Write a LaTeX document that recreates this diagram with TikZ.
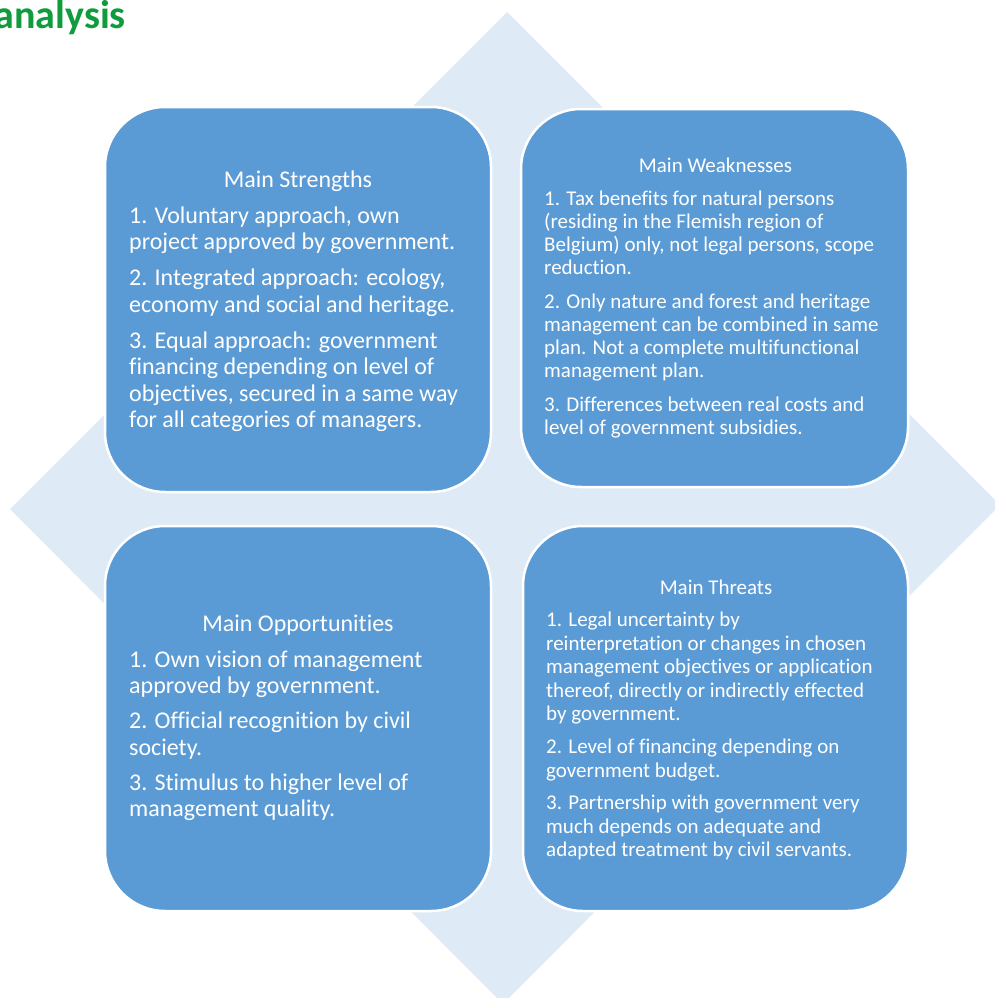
\documentclass[tikz,border=0pt]{standalone}
\usepackage{fontspec}
\setmainfont{Carlito}[Ligatures={NoCommon}]
\definecolor{boxblue}{HTML}{5B9BD5}
\definecolor{diamondblue}{HTML}{DEEBF7}
\definecolor{titlegreen}{RGB}{16,155,60}
\newcommand{\bodyfont}[3]{\fontsize{#1}{#2}\selectfont\setlength{\parskip}{#3}\raggedright}
\begin{document}
\begin{tikzpicture}[x=1pt,y=-1pt,
  quad/.style={draw=white, line width=2.5pt, fill=boxblue, rounded corners=60pt, inner sep=0pt, outer sep=0pt},
  hd/.style={text=white, inner sep=0pt, anchor=base},
  bodytext/.style={text=white, inner sep=0pt, anchor=base west}]
\useasboundingbox (0,0) rectangle (995,998);
\clip (0,0) rectangle (995,998);
\fill[diamondblue] (507,12) -- (1000,505) -- (503,1004) -- (10,509) -- cycle;

\node[anchor=base east, inner sep=0pt, text=titlegreen, font=\fontsize{40}{40}\selectfont\bfseries] (ttl) at (126,29) {analysis};

\node[quad, minimum width=386pt, minimum height=385pt] (sbox) at (298,299.5) {};
\node[quad, minimum width=387pt, minimum height=378pt] (wbox) at (714.5,298) {};
\node[quad, minimum width=386pt, minimum height=385pt] (obox) at (298,718.5) {};
\node[quad, minimum width=385pt, minimum height=385pt] (tbox) at (715.5,718.5) {};

\node[hd, font=\fontsize{24}{26}\selectfont] (stitle) at (298,187) {Main Strengths};
\node[bodytext] (sbody) at (129,223) {\parbox[t]{360pt}{\bodyfont{24}{26.5}{9.5pt}%
1. Voluntary approach, own\\ project approved by government.\par
2. Integrated approach: ecology,\\ economy and social and heritage.\par
3. Equal approach: government\\ financing depending on level of\\ objectives, secured in a same way\\ for all categories of managers.}};

\node[hd, font=\fontsize{21}{23}\selectfont] (wtitle) at (715.5,172) {Main Weaknesses};
\node[bodytext] (wbody) at (544,205) {\parbox[t]{360pt}{\bodyfont{21}{23.3}{9.8pt}%
1. Tax benefits for natural persons\\ (residing in the Flemish region of\\ Belgium) only, not legal persons, scope\\ reduction.\par
2. Only nature and forest and heritage\\ management can be combined in same\\ plan. Not a complete multifunctional\\ management plan.\par
3. Differences between real costs and\\ level of government subsidies.}};

\node[hd, font=\fontsize{24}{26}\selectfont] (otitle) at (298,631) {Main Opportunities};
\node[bodytext] (obody) at (129,667.3) {\parbox[t]{360pt}{\bodyfont{24}{26.3}{9pt}%
1. Own vision of management\\ approved by government.\par
2. Official recognition by civil\\ society.\par
3. Stimulus to higher level of\\ management quality.}};

\node[hd, font=\fontsize{21}{23}\selectfont] (ttitle) at (716,594) {Main Threats};
\node[bodytext] (tbody) at (546,626.7) {\parbox[t]{360pt}{\bodyfont{21}{23.5}{9.3pt}%
1. Legal uncertainty by\\ reinterpretation or changes in chosen\\ management objectives or application\\ thereof, directly or indirectly effected\\ by government.\par
2. Level of financing depending on\\ government budget.\par
3. Partnership with government very\\ much depends on adequate and\\ adapted treatment by civil servants.}};
\end{tikzpicture}
\end{document}
